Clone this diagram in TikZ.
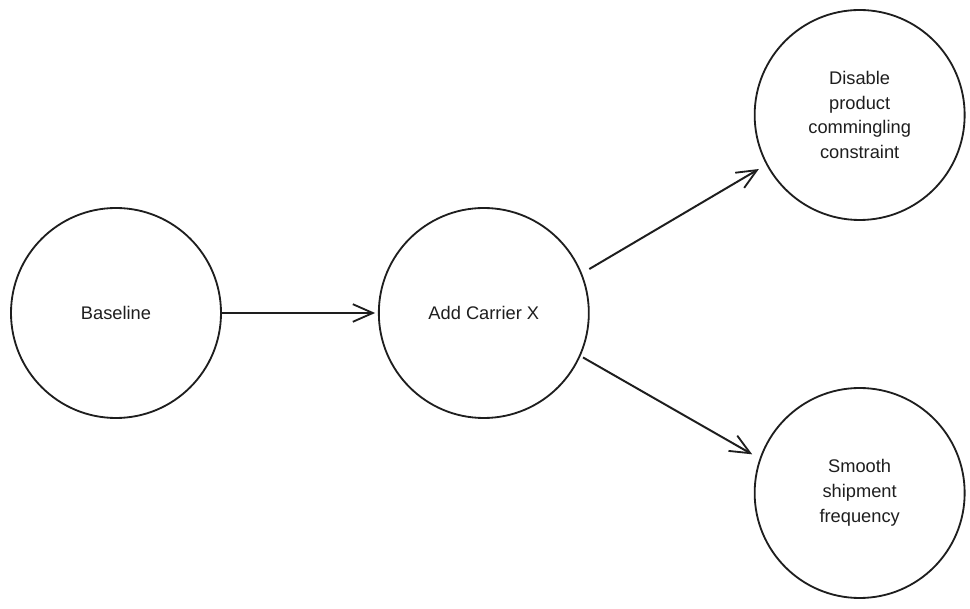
\documentclass[tikz,border=0pt]{standalone}
\usepackage{fontspec}
\setmainfont{Liberation Sans}
\usetikzlibrary{arrows.meta, positioning}
\definecolor{inkdark}{RGB}{30, 30, 30}

\begin{document}
\begin{tikzpicture}[
        node distance=3.9cm,
        stage/.style={draw=inkdark, circle, line width=1.3pt, minimum size=5.25cm, inner sep=0pt, align=center, text=inkdark, font=\fontsize{13}{17.7}\selectfont},
        arr/.style={-{Straight Barb[length=5mm, width=4.4mm, line width=1.3pt]}, line width=1.4pt, inkdark}
      ]
        \useasboundingbox (-2.9,-7.4) rectangle (21.35,7.825);
        \node[stage] (base) {Baseline};
        \node[stage, right=of base] (carrier) {Add Carrier X};
        \node[stage, right=4.1cm of carrier, yshift=4.95cm] (comm) {Disable\\product\\commingling\\constraint};
        \node[stage, right=4.1cm of carrier, yshift=-4.5cm] (smooth) {Smooth\\shipment\\frequency};
        % Pfeile zwischen den Szenarien
        \draw[arr, shorten >=2pt] (base.east) -- (carrier.west);
        \draw[arr, shorten <=6pt, shorten >=6pt] (carrier.22) -- (comm.208);
        \draw[arr, shorten <=2pt, shorten >=6pt] (carrier.-24) -- (smooth.161);
      \end{tikzpicture}
\end{document}
